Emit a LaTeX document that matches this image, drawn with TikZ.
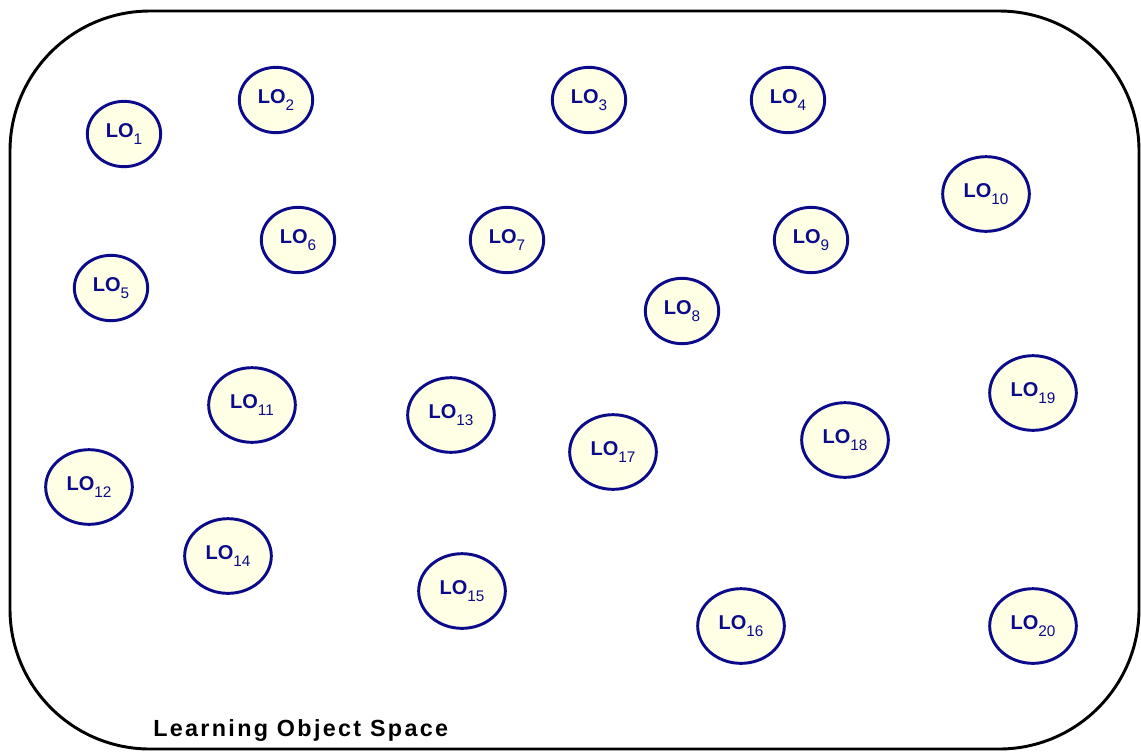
\documentclass[tikz,border=0pt]{standalone}
\usepackage{fontspec}
\setmainfont{Liberation Sans}
\newfontfamily\labelfont[LetterSpace=10]{Liberation Sans}
\usetikzlibrary{shapes.geometric}
\definecolor{lonavy}{HTML}{0A0A8A}
\definecolor{locream}{HTML}{FFFFE6}
\tikzset{
  lo/.style={ellipse, draw=lonavy, fill=locream, line width=2.2pt, inner sep=0pt,
    minimum width=55pt, minimum height=49pt, text=lonavy, font=\fontsize{15}{15}\selectfont\bfseries},
  lobig/.style={lo, minimum width=65pt, minimum height=56pt},
  frame/.style={draw=black, line width=2.2pt, rounded corners=105pt},
}
\newcommand{\lolab}[1]{LO\raisebox{-5pt}{\fontsize{11.5}{11.5}\selectfont\mdseries #1}}
\begin{document}
\begin{tikzpicture}[x=0.75pt,y=-0.75pt]
\useasboundingbox (0,0) rectangle (1141,751);
\path[frame] (10,11) rectangle (1139,749);
\node[lo] (lo1) at (124,134) {\lolab{1}};
\node[lo] (lo2) at (276,100) {\lolab{2}};
\node[lo] (lo3) at (589,100) {\lolab{3}};
\node[lo] (lo4) at (788,100) {\lolab{4}};
\node[lo] (lo5) at (111,288) {\lolab{5}};
\node[lo] (lo6) at (298,240) {\lolab{6}};
\node[lo] (lo7) at (507,240) {\lolab{7}};
\node[lo] (lo8) at (682,311) {\lolab{8}};
\node[lo] (lo9) at (811,240) {\lolab{9}};
\node[lobig] (lo10) at (986,194) {\lolab{10}};
\node[lobig] (lo11) at (252,405) {\lolab{11}};
\node[lobig] (lo12) at (89,487) {\lolab{12}};
\node[lobig] (lo13) at (451,415) {\lolab{13}};
\node[lobig] (lo14) at (228,556) {\lolab{14}};
\node[lobig] (lo15) at (462,591) {\lolab{15}};
\node[lobig] (lo16) at (741,626) {\lolab{16}};
\node[lobig] (lo17) at (613,452) {\lolab{17}};
\node[lobig] (lo18) at (845,440) {\lolab{18}};
\node[lobig] (lo19) at (1033,393) {\lolab{19}};
\node[lobig] (lo20) at (1033,626) {\lolab{20}};
\node[anchor=west, inner sep=0pt, font=\labelfont\fontsize{17.5}{17.5}\selectfont\bfseries] (space) at (153,731) {Learning Object Space};
\end{tikzpicture}
\end{document}
